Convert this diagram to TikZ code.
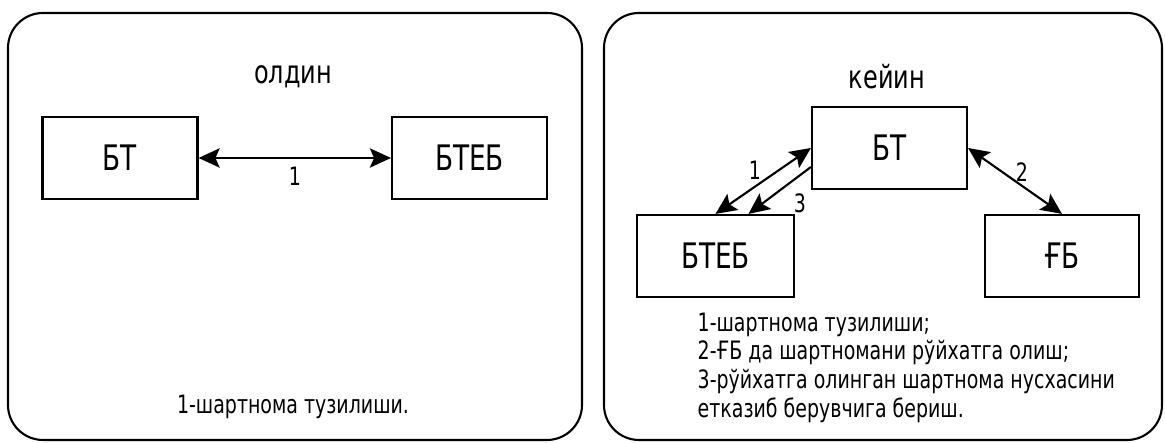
\documentclass[tikz,border=0pt]{standalone}
\usepackage{fontspec}
\setmainfont{DejaVu Sans}[FakeStretch=0.75]
\usetikzlibrary{arrows.meta}

\begin{document}
\begin{tikzpicture}[
  frame/.style={draw, line width=0.6pt, rounded corners=0.35cm},
  box/.style={draw, line width=0.6pt, minimum width=1.55cm, minimum height=0.82cm, inner sep=0pt, font=\fontsize{10}{12}\selectfont},
  link/.style={line width=0.6pt, {Stealth[length=6pt,width=5.5pt,inset=1.2pt]}-{Stealth[length=6pt,width=5.5pt,inset=1.2pt]}},
  oneway/.style={line width=0.6pt, -{Stealth[length=6pt,width=5.5pt,inset=1.2pt]}},
  title/.style={font=\fontsize{9.1}{10}\selectfont},
  note/.style={font=\fontsize{7.2}{8.2}\selectfont, inner sep=0pt}
]
  \useasboundingbox (0,0) rectangle (11.65,4.43);

  \draw[frame] (0.08,0.03) rectangle (5.82,4.30);
  \node[title] (before) at (2.93,3.66) {олдин};
  \node[box] (btA) at (1.20,2.85) {БТ};
  \node[box] (btebA) at (4.695,2.85) {БТЕБ};
  \draw[link] (btA) -- (btebA);
  \node[note] (labA) at (2.95,2.67) {1};
  \node[note] (summaryA) at (2.93,0.36) {1-шартнома тузилиши.};

  \draw[frame] (6.04,0.03) rectangle (11.62,4.30);
  \node[title] (after) at (8.87,3.66) {кейин};
  \node[box] (btB) at (8.895,2.95) {БТ};
  \node[box, minimum width=1.57cm] (btebB) at (7.155,1.87) {БТЕБ};
  \node[box, minimum width=1.54cm] (gb) at (10.62,1.87) {ҒБ};
  \draw[link] (btebB.north) -- (btB.west);
  \draw[oneway] ([yshift=-0.19cm]btB.west) -- ([xshift=0.33cm]btebB.north);
  \draw[link] (btB.east) -- (gb.north);
  \node[note] (labB1) at (7.55,2.73) {1};
  \node[note] (labB3) at (8.00,2.40) {3};
  \node[note] (labB2) at (10.22,2.71) {2};
  \node[note, anchor=north west, align=left] (summaryB) at (6.97,1.31)
    {1-шартнома тузилиши;\\2-ҒБ да шартномани рўйхатга олиш;\\3-рўйхатга олинган шартнома нусхасини\\етказиб берувчига бериш.};
\end{tikzpicture}
\end{document}
